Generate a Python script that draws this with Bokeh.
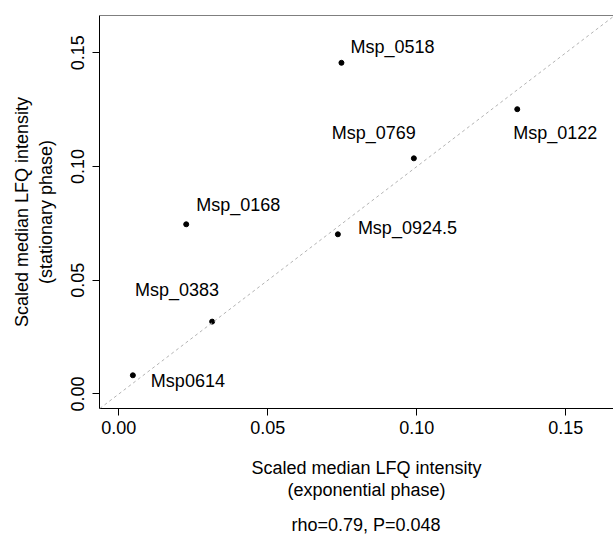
from bokeh.plotting import figure
from bokeh.models import (ColumnDataSource, Range1d, FixedTicker, NumeralTickFormatter,
                          Slope, Span, Title)
from bokeh.core.properties import value
from bokeh.embed import file_html
from bokeh.resources import INLINE

# Scaled median LFQ intensities per protein
proteins = ["Msp0614", "Msp_0168", "Msp_0383", "Msp_0924.5", "Msp_0518", "Msp_0769", "Msp_0122"]
exponential = [0.0047, 0.0226, 0.0313, 0.0735, 0.0747, 0.0990, 0.1337]
stationary = [0.0082, 0.0746, 0.0318, 0.0702, 0.1456, 0.1036, 0.1252]
axis_ticks = [0.00, 0.05, 0.10, 0.15]
stats_text = "rho=0.79, P=0.048"

# label placement around each point (pixels, screen y grows downward)
label_dx = [18, 10, 7, 20, 9, 2, -4]
label_dy = [6, -19, -32, -6, -16, -25, 24]
label_align = ["left", "left", "right", "left", "left", "right", "left"]

FONT = "Liberation Sans"

src = ColumnDataSource(dict(x=exponential, y=stationary, name=proteins,
                            dx=label_dx, dy=label_dy, align=label_align))

p = figure(width=613, height=534, output_backend="svg", toolbar_location=None,
           x_range=Range1d(-0.0065, 0.166), y_range=Range1d(-0.0064, 0.1664),
           min_border_left=99, min_border_right=0, min_border_top=15, min_border_bottom=126)
p.outline_line_color = None
p.background_fill_color = "white"
p.border_fill_color = "white"
p.xgrid.visible = False
p.ygrid.visible = False

for ax in (p.xaxis[0], p.yaxis[0]):
    ax.ticker = FixedTicker(ticks=axis_ticks)
    ax.formatter = NumeralTickFormatter(format="0.00")
    ax.axis_line_color = "black"
    ax.axis_line_width = 1
    ax.major_tick_line_color = "black"
    ax.major_tick_out = 7
    ax.major_tick_in = 0
    ax.minor_tick_line_color = None
    ax.major_label_text_font = FONT
    ax.major_label_text_font_size = "18px"
    ax.major_label_text_color = "black"
p.xaxis[0].major_label_standoff = 5
p.yaxis[0].major_label_standoff = 8
p.yaxis[0].major_label_orientation = "vertical"

# two-line y axis title
p.yaxis[0].axis_label = "Scaled median LFQ intensity\n(stationary phase)"
p.yaxis[0].axis_label_text_font = FONT
p.yaxis[0].axis_label_text_font_size = "18px"
p.yaxis[0].axis_label_text_font_style = "normal"
p.yaxis[0].axis_label_text_color = "black"
p.yaxis[0].axis_label_standoff = 13

# top edge of the box
p.add_layout(Span(location=p.y_range.end, dimension="width", line_color="black", line_width=1))

# identity line
p.add_layout(Slope(gradient=1, y_intercept=0, line_color="#b3b3b3", line_width=1, line_dash="3 3"))

p.scatter("x", "y", source=src, size=5, color="black")
p.text("x", "y", text="name", source=src, x_offset="dx", y_offset="dy", text_align="align",
       text_baseline="middle", text_font=value(FONT), text_font_size="18px", text_color="black")

# x axis title lines and the statistics line below the plot
def add_below(text, offset, standoff, size="18px"):
    p.add_layout(Title(text=text, align="left", offset=offset, standoff=standoff,
                       text_font=FONT, text_font_size=size, text_font_style="normal",
                       text_color="black"), "below")

add_below(" ", 0, 16, size="1px")  # gap between tick labels and the title
add_below("Scaled median LFQ intensity", 152, 0)
add_below("(exponential phase)", 188, 0)
add_below(" ", 0, 10, size="1px")  # gap before the statistics line
add_below(stats_text, 192, 0)

open("out.html", "w").write(file_html(p, INLINE))
